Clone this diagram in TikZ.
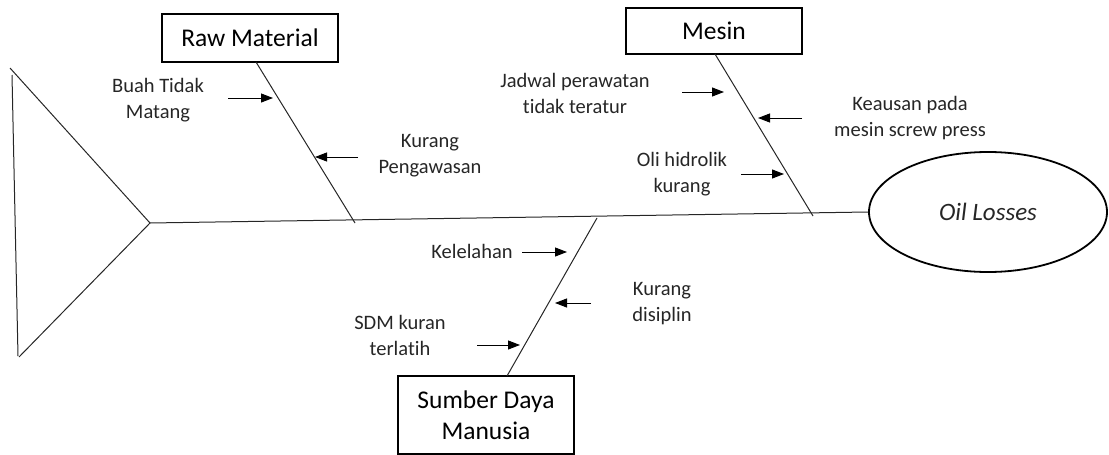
\documentclass[tikz,border=0pt]{standalone}
\usepackage{fontspec}
\setmainfont[Ligatures=NoCommon]{Carlito}
\usetikzlibrary{arrows.meta,shapes.geometric}
\begin{document}
\begin{tikzpicture}[x=1pt,y=-1pt,
  bone/.style={line width=1pt,black!85},
  cause/.style={line width=1pt,-{Triangle[length=12pt,width=9pt]}},
  catbox/.style={draw,line width=1.8pt,inner sep=0pt,font=\fontsize{25.5}{31}\selectfont,align=center},
  lbl/.style={font=\fontsize{20.5}{26}\selectfont,align=center,inner sep=0pt,text=black!85}]
\useasboundingbox (0,0) rectangle (1109,455);
% head triangle
\coordinate (t1) at (10,68);
\coordinate (t2) at (150,223);
\coordinate (t3) at (19,357);
\coordinate (v1) at (12,75);
\coordinate (v2) at (18,356);
\draw[bone] (t1) -- (t2) -- (t3);
\draw[bone] (v1) -- (v2);
% effect
\node[draw,ellipse,line width=1.8pt,minimum width=238pt,minimum height=120pt,inner sep=0pt] (oil) at (988,212) {};
\node[font=\fontsize{25}{30}\selectfont\itshape,text=black!85] (oiltxt) at (oil.center) {Oil Losses};
% spine
\draw[bone] (t2) -- (oil.west);
% categories
\node[catbox,minimum width=176pt,minimum height=48pt] (rm) at (250,38) {\raisebox{-2pt}{Raw Material}};
\node[catbox,minimum width=176pt,minimum height=46pt] (ms) at (714,31) {\raisebox{-1.5pt}{Mesin}};
\node[catbox,minimum width=176pt,minimum height=78pt] (sdm) at (486,415) {Sumber Daya\\Manusia};
% bones
\coordinate (rmA) at (256,62);
\coordinate (rmB) at (355,223);
\coordinate (msA) at (715,54);
\coordinate (msB) at (813,216);
\coordinate (sdA) at (597,218);
\coordinate (sdB) at (507,376);
\draw[bone] (rmA) -- (rmB);
\draw[bone] (msA) -- (msB);
\draw[bone] (sdA) -- (sdB);
% raw material causes
\node[lbl] (c1) at (158,100) {Buah Tidak\\Matang};
\coordinate (a1s) at (228,98); \coordinate (a1e) at (273,98);
\draw[cause] (a1s) -- (a1e);
\node[lbl] (c2) at (430,156) {Kurang\\Pengawasan};
\coordinate (a2s) at (358,157); \coordinate (a2e) at (315,157);
\draw[cause] (a2s) -- (a2e);
% mesin causes
\node[lbl] (c3) at (575,93) {Jadwal perawatan\\tidak teratur};
\coordinate (a3s) at (682,92); \coordinate (a3e) at (724,92);
\draw[cause] (a3s) -- (a3e);
\node[lbl] (c4) at (910,118) {Keausan pada\\mesin screw press};
\coordinate (a4s) at (802,118); \coordinate (a4e) at (758,118);
\draw[cause] (a4s) -- (a4e);
\node[lbl] (c5) at (682,174) {Oli hidrolik\\kurang};
\coordinate (a5s) at (741,174); \coordinate (a5e) at (784,174);
\draw[cause] (a5s) -- (a5e);
% SDM causes
\node[lbl] (c6) at (472,251) {Kelelahan};
\coordinate (a6s) at (522,252); \coordinate (a6e) at (567,252);
\draw[cause] (a6s) -- (a6e);
\node[lbl] (c7) at (662,304) {Kurang\\disiplin};
\coordinate (a7s) at (591,303); \coordinate (a7e) at (555,303);
\draw[cause] (a7s) -- (a7e);
\node[lbl] (c8) at (400,335) {SDM kuran\\terlatih};
\coordinate (a8s) at (477,345); \coordinate (a8e) at (520,345);
\draw[cause] (a8s) -- (a8e);
\end{tikzpicture}
\end{document}
